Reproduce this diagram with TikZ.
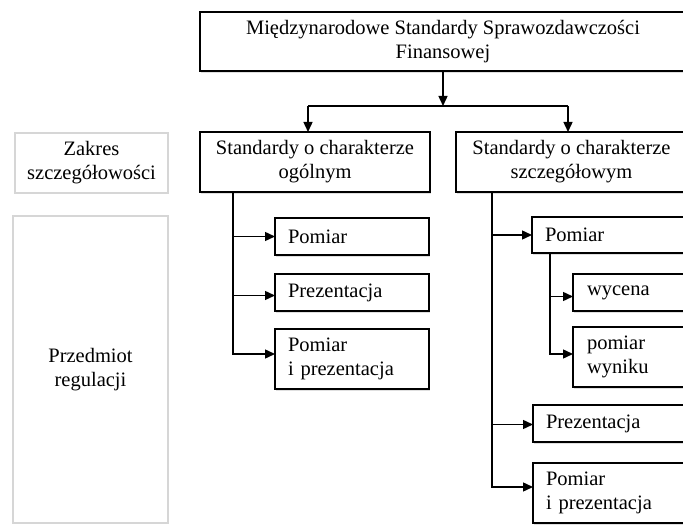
\documentclass[tikz,border=0pt]{standalone}
\usepackage{fontspec}
\setmainfont{Liberation Serif}
\usetikzlibrary{arrows.meta,shadows}

\begin{document}
\begin{tikzpicture}[x=1pt,y=-1pt,font=\fontsize{20.5}{24}\selectfont,
  box/.style={draw,line width=1.6pt,fill=white,inner sep=0pt,outer sep=0pt,anchor=north west,
    drop shadow={shadow xshift=0.6pt,shadow yshift=-1.8pt,opacity=0.25}},
  sidelabel/.style={draw=black!16,line width=2.6pt,fill=white,inner sep=0pt,outer sep=0pt,anchor=north west,align=center},
  sub/.style={box,align=left,inner xsep=13pt},
  link/.style={line width=1.4pt},
  arr/.style={link,-{Triangle[length=10pt,width=9pt]}}]
  \useasboundingbox (0,0) rectangle (683,526);
  \clip (0,0) rectangle (683,526);
  % top box
  \node[box,minimum width=486pt,minimum height=59pt,align=center] (msr) at (200,12) {Międzynarodowe Standardy Sprawozdawczości\\Finansowej};
  % second level and side labels
  \node[sidelabel,minimum width=153pt,minimum height=60pt] (zakres) at (15,133) {Zakres\\szczegółowości};
  \node[sidelabel,minimum width=155pt,minimum height=307pt] (przedm) at (13,216) {Przedmiot\\regulacji};
  \node[box,minimum width=230pt,minimum height=60pt,align=center] (ogol) at (200,132) {Standardy o charakterze\\ogólnym};
  \node[box,minimum width=231pt,minimum height=60pt,align=center] (szcz) at (456,132) {Standardy o charakterze\\szczegółowym};
  % left branch
  \node[sub,text width=128pt,minimum height=37pt] (lpom) at (275,218) {Pomiar};
  \node[sub,text width=128pt,minimum height=37pt] (lprez) at (275,274) {Prezentacja};
  \node[sub,text width=128pt,minimum height=60pt] (lpip) at (275,329) {Pomiar\\i prezentacja};
  % right branch
  \node[sub,text width=131pt,minimum height=36pt] (rpom) at (532,217) {Pomiar};
  \node[sub,text width=100pt,minimum height=37pt,inner xsep=14pt] (wyc) at (573,274) {wycena};
  \node[sub,text width=100pt,minimum height=60pt,inner xsep=14pt] (wyn) at (573,327) {pomiar\\wyniku};
  \node[sub,text width=131pt,minimum height=37pt] (rprez) at (533,405) {Prezentacja};
  \node[sub,text width=131pt,minimum height=60pt] (rpip) at (533,463) {Pomiar\\i prezentacja};
  % splitting arrows
  \coordinate (jl) at (308,106);
  \coordinate (jr) at (568,106);
  \draw[arr] (msr.south) -- (msr.south |- jl);
  \draw[link] (jl) -- (jr);
  \draw[arr] (jl) -- (jl |- ogol.north);
  \draw[arr] (jr) -- (jr |- szcz.north);
  % trunks
  \coordinate (tl) at ([xshift=33pt]ogol.south west);
  \draw[arr] (tl) |- (lpom.west);
  \draw[arr] (tl) |- ([yshift=-3pt]lprez.west);
  \draw[arr] (tl) |- ([yshift=5pt]lpip.west);
  \coordinate (tr) at ([xshift=36pt]szcz.south west);
  \draw[arr] (tr) |- (rpom.west);
  \draw[arr] (tr) |- ([yshift=-1pt]rprez.west);
  \draw[arr] (tr) |- ([yshift=6pt]rpip.west);
  \coordinate (tp) at ([xshift=18pt]rpom.south west);
  \draw[arr] (tp) |- ([yshift=-4pt]wyc.west);
  \draw[arr] (tp) |- ([yshift=3pt]wyn.west);
\end{tikzpicture}
\end{document}
